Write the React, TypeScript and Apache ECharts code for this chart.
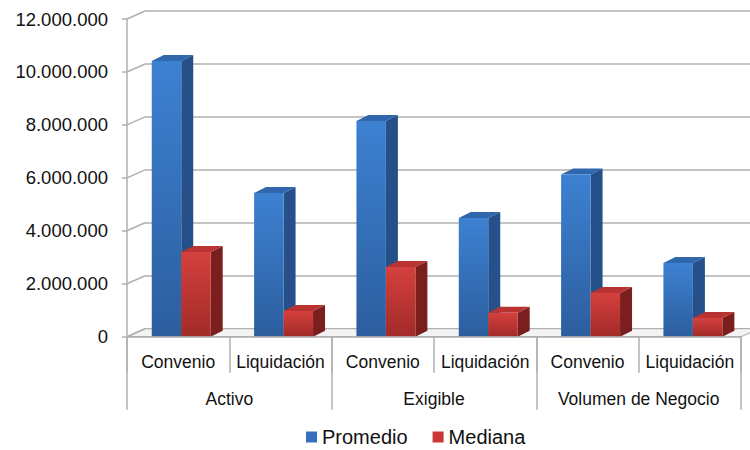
import { useEffect, useRef } from "react";
import * as echarts from "echarts";

// Sub-categories (inner axis level) and their outer groups
const subCategories = ["Convenio", "Liquidación", "Convenio", "Liquidación", "Convenio", "Liquidación"];
const groups = ["Activo", "Exigible", "Volumen de Negocio"];

// Values per sub-category
const promedio = [10410000, 5430000, 8150000, 4480000, 6130000, 2780000];
const mediana = [3200000, 970000, 2630000, 900000, 1650000, 710000];

// Value axis ticks
const yTicks = [0, 2000000, 4000000, 6000000, 8000000, 10000000, 12000000];
const yMax = 12000000;
const yStep = 2000000;

// Depth offsets of the 3D box (wall) and of each column
const WALL_DX = 18;
const WALL_DY = -8;
const BAR_DX = 12;
const BAR_DY = -6;

const fmt = (v: number) => String(Math.round(v)).replace(/\B(?=(\d{3})+(?!\d))/g, ".");

const palettes = {
  blue: {
    front: ["#3d81d2", "#2c5e9e"],
    side: "#25508a",
    top: "#2f66ac",
    legend: "#3670bd",
  },
  red: {
    front: ["#d4403d", "#a22b29"],
    side: "#7a1f1e",
    top: "#b83331",
    legend: "#c73836",
  },
};

function barRenderer(pal: typeof palettes.blue, leftOffset: number) {
  return (params: any, api: any) => {
    const idx = api.value(0);
    const val = api.value(1);
    const band = api.size([1, 0])[0];
    const top = api.coord([idx, val]);
    const base = api.coord([idx, 0]);
    const w = band * 0.288;
    const x0 = top[0] + band * leftOffset;
    const x1 = x0 + w;
    const yT = top[1];
    const yB = base[1];
    return {
      type: "group",
      children: [
        {
          type: "polygon",
          shape: {
            points: [
              [x1, yT],
              [x1 + BAR_DX, yT + BAR_DY],
              [x1 + BAR_DX, yB + BAR_DY],
              [x1, yB],
            ],
          },
          style: { fill: pal.side },
        },
        {
          type: "polygon",
          shape: {
            points: [
              [x0, yT],
              [x1, yT],
              [x1 + BAR_DX, yT + BAR_DY],
              [x0 + BAR_DX, yT + BAR_DY],
            ],
          },
          style: { fill: pal.top },
        },
        {
          type: "rect",
          shape: { x: x0, y: yT, width: w, height: yB - yT },
          style: {
            fill: new echarts.graphic.LinearGradient(0, 0, 0, 1, [
              { offset: 0, color: pal.front[0] },
              { offset: 1, color: pal.front[1] },
            ]),
          },
        },
      ],
    };
  };
}

export default function App() {
  const ref = useRef<HTMLDivElement>(null);

  useEffect(() => {
    if (!ref.current) return;
    const chart = echarts.init(ref.current, null, { renderer: "svg" });

    const gridFront = { left: 127, right: 9, top: 19, bottom: 113.3, containLabel: false, outerBoundsMode: "none" };
    const gridBack = { left: 127 + WALL_DX, right: 0, top: 19 + WALL_DY, bottom: 113.3 - WALL_DY, containLabel: false, outerBoundsMode: "none" };

    const textColor = "#111";
    const lineColor = "#b0b0b0";

    chart.setOption({
      animation: false,
      backgroundColor: "#ffffff",
      textStyle: { fontFamily: "Liberation Sans, Arial, sans-serif" },
      legend: {
        top: 427,
        left: 306,
        padding: 0,
        icon: "rect",
        itemWidth: 11,
        itemHeight: 11,
        itemGap: 25,
        textStyle: { fontSize: 20, color: textColor, fontFamily: "Liberation Sans, Arial, sans-serif" },
        data: [
          { name: "Promedio", itemStyle: { color: palettes.blue.legend } },
          { name: "Mediana", itemStyle: { color: palettes.red.legend } },
        ],
      },
      grid: [gridFront, gridBack],
      xAxis: [
        {
          type: "category",
          gridIndex: 0,
          data: subCategories,
          boundaryGap: true,
          axisLine: { show: true, lineStyle: { color: lineColor, width: 1.5 } },
          axisTick: { show: true, interval: 0, length: 36, alignWithLabel: false, lineStyle: { color: lineColor, width: 1.5 } },
          axisLabel: { interval: 0, margin: 16, fontSize: 17.5, color: textColor },
          splitLine: { show: false },
          z: 5,
        },
        {
          type: "category",
          gridIndex: 0,
          position: "bottom",
          data: groups,
          boundaryGap: true,
          axisLine: { show: false },
          axisTick: { show: true, interval: 0, length: 73, alignWithLabel: false, lineStyle: { color: lineColor, width: 1.5 } },
          axisLabel: { interval: 0, margin: 53, fontSize: 17.5, color: textColor },
          splitLine: { show: false },
        },
        {
          type: "value",
          gridIndex: 1,
          show: false,
          min: 0,
          max: 1,
        },
      ],
      yAxis: [
        {
          type: "value",
          gridIndex: 0,
          min: 0,
          max: yMax,
          interval: yStep,
          axisLine: { show: true, lineStyle: { color: lineColor, width: 1.5 } },
          axisTick: { show: true, length: 5, lineStyle: { color: lineColor, width: 1.5 } },
          axisLabel: { margin: 19, fontSize: 18.5, color: textColor, formatter: (v: number) => fmt(v) },
          splitLine: { show: false },
          z: 5,
        },
        {
          type: "value",
          gridIndex: 1,
          min: 0,
          max: yMax,
          interval: yStep,
          axisLine: { show: false },
          axisTick: { show: false },
          axisLabel: { show: false },
          splitLine: { show: true, lineStyle: { color: lineColor, width: 1.5 } },
        },
      ],
      series: [
        {
          // floor of the 3D box and side-wall gridlines
          type: "custom",
          name: "walls",
          xAxisIndex: 0,
          yAxisIndex: 0,
          silent: true,
          legendHoverLink: false,
          z: 1,
          data: yTicks.map((v) => [0, v]),
          renderItem: (params: any, api: any) => {
            const band = api.size([1, 0])[0];
            const p = api.coord([0, api.value(1)]);
            const xL = p[0] - band / 2;
            const y = p[1];
            const children: any[] = [];
            if (api.value(1) === 0) {
              const xR = xL + band * subCategories.length;
              children.push({
                type: "polygon",
                shape: {
                  points: [
                    [xL, y],
                    [xR, y],
                    [xR + WALL_DX, y + WALL_DY],
                    [xL + WALL_DX, y + WALL_DY],
                  ],
                },
                style: { fill: "#f3f3f3", stroke: lineColor, lineWidth: 1.2 },
              });
            }
            children.push({
              type: "line",
              shape: { x1: xL, y1: y, x2: xL + WALL_DX, y2: y + WALL_DY },
              style: { stroke: lineColor, lineWidth: 1.5 },
            });
            return { type: "group", children };
          },
        },
        {
          type: "custom",
          name: "Promedio",
          xAxisIndex: 0,
          yAxisIndex: 0,
          z: 3,
          itemStyle: { color: palettes.blue.legend },
          data: promedio.map((v, i) => [i, v]),
          renderItem: barRenderer(palettes.blue, -0.258),
        },
        {
          type: "custom",
          name: "Mediana",
          xAxisIndex: 0,
          yAxisIndex: 0,
          z: 3,
          itemStyle: { color: palettes.red.legend },
          data: mediana.map((v, i) => [i, v]),
          renderItem: barRenderer(palettes.red, 0.03),
        },
      ],
    });

    return () => chart.dispose();
  }, []);

  return <div ref={ref} style={{ width: 750, height: 450, position: "fixed", left: 0, top: 0 }} />;
}
